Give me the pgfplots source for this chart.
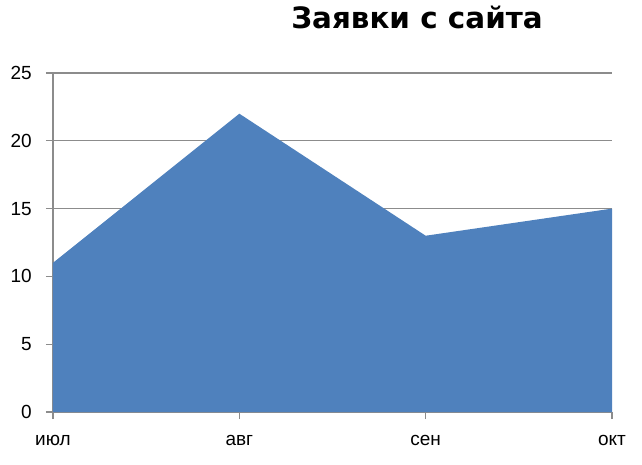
\documentclass[border=0pt]{standalone}
\usepackage{pgfplots}
\pgfplotsset{compat=1.18}
\usepackage{fontspec}
\setmainfont{Liberation Sans}
\newfontfamily\titlefont{DejaVu Sans}
\definecolor{areablue}{HTML}{4F81BD}
\definecolor{gridgray}{HTML}{8C8C8C}
\begin{document}
\begin{tikzpicture}[x=1pt,y=1pt]
\useasboundingbox (-53,-52) rectangle (589,412);
\begin{axis}[
  at={(0,0)}, anchor=origin,
  scale only axis, width=559pt, height=339pt,
  xmin=0, xmax=3, ymin=0, ymax=25,
  xtick={0,1,2,3},
  xticklabels={июл,авг,сен,окт},
  ytick={0,5,10,15,20,25},
  ymajorgrids,
  grid style={gridgray, line width=1.2pt},
  axis line style={gridgray, line width=1.2pt},
  axis x line*=bottom, axis y line*=left,
  tick style={gridgray, line width=1.2pt},
  tick align=outside,
  major tick length=7pt,
  x tick label style={font=\fontsize{19}{22}\selectfont, inner sep=0pt, yshift=-16pt},
  y tick label style={font=\fontsize{19}{22}\selectfont, inner sep=0pt, xshift=-14pt},
  /pgf/number format/assume math mode=true,
  clip=false,
]
\addplot[fill=areablue, draw=none] coordinates {(0,11) (1,22) (2,13) (3,15)} \closedcycle;
\end{axis}
\node[font=\titlefont\bfseries\fontsize{29.4}{34}\selectfont, anchor=base, inner sep=0pt] at (364,383) {Заявки с сайта};
\end{tikzpicture}
\end{document}
